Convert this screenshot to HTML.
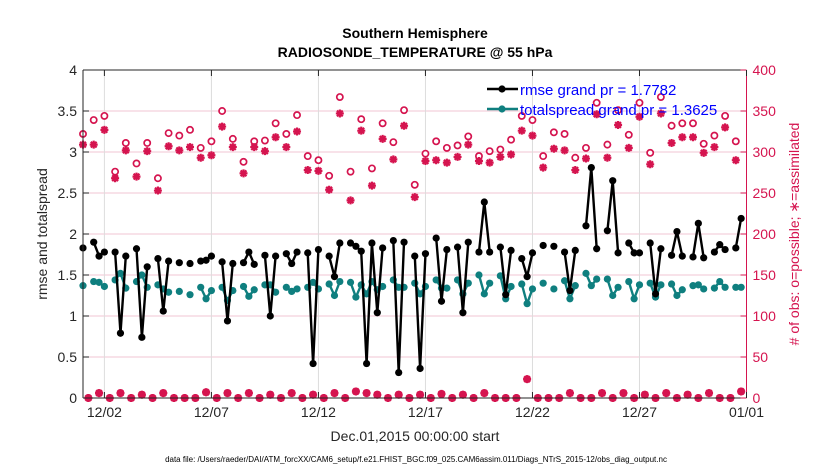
<!DOCTYPE html>
<html><head><meta charset="utf-8"><style>
body{margin:0;background:#fff;}
svg text{font-family:"Liberation Sans",sans-serif;}
</style></head><body>
<svg id="chart" width="830" height="470" xmlns="http://www.w3.org/2000/svg">
<rect width="830" height="470" fill="#fff"/>
<g id="grid"></g>
<g id="series"></g>
<g id="axes"></g>
</svg>
<script>
// slot index = 6-hourly step since Dec.01 00:00
const rmseSlots=[0,2,3,4,6,7,8,10,11,12,14,15,16,18,20,22,23,24,26,27,28,30,31,32,34,35,36,38,39,40,42,43,44,46,47,48,50,51,52,53,54,55,56,58,59,60,62,63,64,66,67,68,70,71,72,74,75,76,78,79,80,82,83,84,86,88,90,91,92,94,95,96,98,99,100,102,103,104,106,107,108,110,111,112,114,115,116,118,119,120,122,123];
const rmseVals=[1.83,1.90,1.73,1.78,1.78,0.79,1.73,1.82,0.74,1.60,1.70,1.06,1.67,1.65,1.64,1.67,1.68,1.73,1.66,0.94,1.64,1.65,1.78,1.63,1.74,1.00,1.73,1.76,1.64,1.78,1.77,0.42,1.81,1.73,1.48,1.89,1.89,1.85,1.79,0.42,1.89,1.04,1.83,1.92,0.31,1.90,1.73,0.36,1.76,1.95,1.18,1.81,1.84,1.04,1.90,1.78,2.39,1.78,1.84,1.26,1.80,1.70,1.48,1.77,1.86,1.85,1.78,1.31,1.80,2.10,2.81,1.82,2.04,2.65,1.77,1.89,1.77,1.77,1.89,1.27,1.82,1.74,2.03,1.73,1.72,2.13,1.71,1.78,1.87,1.81,1.83,2.19];
const spreadVals=[1.37,1.42,1.41,1.36,1.44,1.52,1.34,1.42,1.50,1.35,1.38,1.33,1.29,1.30,1.26,1.35,1.21,1.31,1.35,1.19,1.31,1.36,1.24,1.32,1.38,1.38,1.29,1.35,1.30,1.33,1.35,1.41,1.33,1.39,1.25,1.42,1.41,1.23,1.38,1.27,1.42,1.32,1.36,1.44,1.35,1.35,1.40,1.27,1.36,1.44,1.34,1.34,1.44,1.27,1.40,1.50,1.27,1.40,1.49,1.21,1.36,1.39,1.15,1.33,1.40,1.33,1.43,1.21,1.37,1.52,1.37,1.45,1.45,1.25,1.35,1.42,1.21,1.38,1.40,1.23,1.38,1.39,1.25,1.32,1.37,1.38,1.33,1.34,1.42,1.35,1.35,1.35];
const countSlots=[0,2,4,6,8,10,12,14,16,18,20,22,24,26,28,30,32,34,36,38,40,42,44,46,48,50,52,54,56,58,60,62,64,66,68,70,72,74,76,78,80,82,84,86,88,90,92,94,96,98,100,102,104,106,108,110,112,114,116,118,120,122];
const possibleVals=[322,339,344,276,311,286,311,268,323,320,327,305,313,350,316,288,313,314,335,322,345,295,290,271,367,276,340,280,335,312,351,260,298,313,305,308,319,295,301,303,315,344,339,295,324,322,293,305,360,309,351,321,360,299,367,332,335,335,310,320,344,313];
const assimVals=[309,309,327,268,302,270,301,253,307,302,306,293,296,331,306,274,306,301,318,306,325,278,277,254,347,241,326,259,316,291,332,245,289,290,287,294,309,289,287,294,297,326,320,281,304,302,278,292,346,293,333,305,343,285,347,311,318,318,299,306,330,290];
const lowSlots=[1,3,5,7,9,11,13,15,17,19,21,23,25,27,29,31,33,35,37,39,41,43,45,47,49,51,53,55,57,59,61,63,65,67,69,71,73,75,77,79,81,83,85,87,89,91,93,95,97,99,101,103,105,107,109,111,113,115,117,119,121,123];
const lowPossVals=[0,6,0,6,0,4,0,6,0,0,0,7,0,6,0,6,0,4,0,6,0,4,0,6,0,8,6,4,0,4,0,4,0,5,0,4,0,6,0,0,0,23,0,0,0,6,0,0,6,0,6,0,4,0,6,0,4,0,6,0,0,8];
const lowAssimVals=[0,6,0,6,0,4,0,6,0,0,0,7,0,6,0,6,0,4,0,6,0,4,0,6,0,8,6,4,0,4,0,4,0,5,0,4,0,6,0,0,0,23,0,0,0,6,0,0,6,0,6,0,4,0,6,0,4,0,6,0,0,8];
const leftTicks=[0,0.5,1,1.5,2,2.5,3,3.5,4];
const rightTicks=[0,50,100,150,200,250,300,350,400];
const xTickDays=[1,6,11,16,21,26,31];
const xTickLabels=["12/02","12/07","12/12","12/17","12/22","12/27","01/01"];

const X0=83,X1=746.5,Y0=398,Y1=70,DAYS=31;
const RED="#d5144f";
const xs=s=>X0+(s*0.25)/DAYS*(X1-X0);
const xd=d=>X0+d/DAYS*(X1-X0);
const yL=v=>Y0-v/4*(Y0-Y1);
const yR=v=>Y0-v/400*(Y0-Y1);
const NS="http://www.w3.org/2000/svg";
function mk(tag,attrs,parent,txt){const e=document.createElementNS(NS,tag);for(const k in attrs)e.setAttribute(k,attrs[k]);if(txt!==undefined)e.textContent=txt;parent.appendChild(e);return e;}
const grid=document.getElementById('grid'),ser=document.getElementById('series'),axes=document.getElementById('axes');

rightTicks.forEach(t=>{if(t===0||t===400)return;const l=mk('line',{x1:X0,x2:X1,y1:yR(t),y2:yR(t),stroke:'#f2c6d3','stroke-width':1},grid);

});
xTickDays.forEach(d=>{const l=mk('line',{x1:xd(d),x2:xd(d),y1:Y1,y2:Y0,stroke:'#dcdcdc','stroke-width':1},grid);

});

function star(cx,cy,g){const r=4;const p=`M${cx-r},${cy}H${cx+r}M${cx},${cy-r}V${cy+r}M${cx-2.9},${cy-2.9}L${cx+2.9},${cy+2.9}M${cx-2.9},${cy+2.9}L${cx+2.9},${cy-2.9}`;
const e=mk('path',{d:p,stroke:RED,'stroke-width':2.2,fill:'none'},g);

}
function circ(cx,cy,g){const e=mk('circle',{cx:cx,cy:cy,r:3.1,stroke:RED,'stroke-width':1.7,fill:'#fff'},g);

}

const cg=mk('g',{},ser);


countSlots.forEach((s,i)=>{circ(xs(s),yR(possibleVals[i]),cg);star(xs(s),yR(assimVals[i]),cg);});
lowSlots.forEach((s,i)=>{circ(xs(s),yR(lowPossVals[i]),cg);star(xs(s),yR(lowAssimVals[i]),cg);});

function line(slots,vals,color,name){const g=mk('g',{},ser);


let d='';slots.forEach((s,i)=>{const c=(i>0&&slots[i-1]===s-1)?'L':'M';d+=c+xs(s).toFixed(1)+','+yL(vals[i]).toFixed(1);});
mk('path',{d:d,stroke:color,'stroke-width':2.4,fill:'none','stroke-linejoin':'round'},g);
slots.forEach((s,i)=>{const c=mk('circle',{cx:xs(s),cy:yL(vals[i]),r:3.6,fill:color},g);

});}
line(rmseSlots,spreadVals,'#0f7f7f','totalspread-series');
line(rmseSlots,rmseVals,'#000','rmse-series');

// axes
mk('line',{x1:X0,x2:X1,y1:Y1,y2:Y1,stroke:'#262626','stroke-width':1},axes);
mk('line',{x1:X0,x2:X1,y1:Y0,y2:Y0,stroke:'#262626','stroke-width':1},axes);
mk('line',{x1:X0,x2:X0,y1:Y1,y2:Y0,stroke:'#262626','stroke-width':1},axes);
mk('line',{x1:X1,x2:X1,y1:Y1,y2:Y0,stroke:RED,'stroke-width':1},axes);
leftTicks.forEach(t=>{mk('line',{x1:X0,x2:X0+6,y1:yL(t),y2:yL(t),stroke:'#262626'},axes);
const e=mk('text',{x:X0-6,y:yL(t)+5,'font-size':14,'text-anchor':'end',fill:'#262626'},axes,String(t));

});
rightTicks.forEach(t=>{mk('line',{x1:X1-6,x2:X1,y1:yR(t),y2:yR(t),stroke:RED},axes);
const e=mk('text',{x:X1+6,y:yR(t)+5,'font-size':14,fill:RED},axes,String(t));

});
xTickDays.forEach((d,i)=>{mk('line',{x1:xd(d),x2:xd(d),y1:Y0-6,y2:Y0,stroke:'#262626'},axes);mk('line',{x1:xd(d),x2:xd(d),y1:Y1,y2:Y1+6,stroke:'#262626'},axes);
const e=mk('text',{x:xd(d),y:Y0+19,'font-size':14,'text-anchor':'middle',fill:'#262626'},axes,xTickLabels[i]);

});
</script>
<svg style="position:absolute;left:0;top:0" width="830" height="470" xmlns="http://www.w3.org/2000/svg">
<text x="415" y="38" font-size="14" font-weight="bold" text-anchor="middle" fill="#000">Southern Hemisphere</text>
<text x="415" y="57" font-size="14" font-weight="bold" text-anchor="middle" fill="#000">RADIOSONDE_TEMPERATURE @ 55 hPa</text>
<text transform="translate(47,234) rotate(-90)" font-size="14" text-anchor="middle" fill="#262626">rmse and totalspread</text>
<text transform="translate(799,234) rotate(-90)" font-size="14" text-anchor="middle" fill="#d5144f"># of obs: o=possible; ∗=assimilated</text>
<text x="415" y="441" font-size="14" text-anchor="middle" fill="#262626">Dec.01,2015 00:00:00 start</text>
<text x="416" y="462" font-size="8" text-anchor="middle" fill="#000">data file: /Users/raeder/DAI/ATM_forcXX/CAM6_setup/f.e21.FHIST_BGC.f09_025.CAM6assim.011/Diags_NTrS_2015-12/obs_diag_output.nc</text>
<g>
<line x1="487" y1="89" x2="518" y2="89" stroke="#000" stroke-width="2.4"/><circle cx="502" cy="89" r="3.6" fill="#000"/>
<text x="520" y="95" font-size="15" fill="#0000ff">rmse grand pr = 1.7782</text>
<line x1="487" y1="109" x2="518" y2="109" stroke="#0f7f7f" stroke-width="2.4"/><circle cx="502" cy="109" r="3.6" fill="#0f7f7f"/>
<text x="520" y="115" font-size="15" fill="#0000ff">totalspread grand pr = 1.3625</text>
</g>
</svg>
</body></html>
